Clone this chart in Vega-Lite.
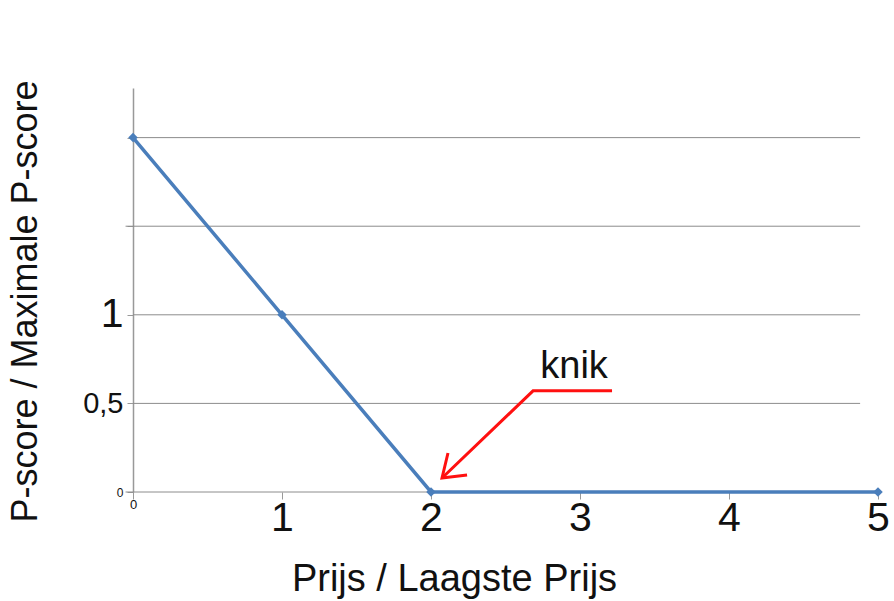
{
  "$schema": "https://vega.github.io/schema/vega-lite/v6.json",
  "width": 745,
  "height": 404,
  "autosize": "none",
  "padding": {"left": 133, "top": 88, "right": 16, "bottom": 109},
  "background": "white",
  "config": {"view": {"stroke": null}, "font": "Liberation Sans"},
  "datasets": {
    "series": [
      {"x": 0, "y": 2},
      {"x": 1, "y": 1},
      {"x": 2, "y": 0},
      {"x": 5, "y": 0}
    ],
    "grid": [
      {"y": 0.5, "x0": 0, "x1": 4.88},
      {"y": 1, "x0": 0, "x1": 4.88},
      {"y": 1.5, "x0": -0.05, "x1": 4.88},
      {"y": 2, "x0": 0, "x1": 4.88}
    ],
    "arrow": [
      {"g": "shaft", "o": 1, "x": 3.215, "y": 0.571},
      {"g": "shaft", "o": 2, "x": 2.685, "y": 0.571},
      {"g": "shaft", "o": 3, "x": 2.074, "y": 0.079},
      {"g": "head", "o": 1, "x": 2.114, "y": 0.22},
      {"g": "head", "o": 2, "x": 2.074, "y": 0.079},
      {"g": "head", "o": 3, "x": 2.242, "y": 0.096}
    ],
    "label": [{"x": 2.96, "y": 0.644, "t": "knik"}]
  },
  "layer": [
    {
      "data": {"name": "grid"},
      "mark": {"type": "rule", "color": "#8c8c8c", "strokeWidth": 1},
      "encoding": {
        "x": {
          "field": "x0", "type": "quantitative",
          "scale": {"domain": [0, 5], "nice": false, "zero": false},
          "axis": {
            "title": "Prijs / Laagste Prijs",
            "titleFontSize": 38, "titleFontWeight": "normal", "titleColor": "#111",
            "titleX": 321, "titleY": 98, "titleAlign": "center", "titleBaseline": "alphabetic",
            "values": [0, 1, 2, 3, 4, 5],
            "format": "d",
            "labelFontSize": {"condition": {"test": "datum.value === 0", "value": 13}, "value": 41},
            "labelColor": "#111",
            "labelPadding": -1,
            "domain": false, "grid": false,
            "ticks": true, "tickSize": 7, "tickColor": "#999",
            "labelFlush": false, "labelOverlap": false
          }
        },
        "x2": {"field": "x1"},
        "y": {
          "field": "y", "type": "quantitative",
          "scale": {"domain": [0, 2.28], "nice": false, "zero": false},
          "axis": {
            "title": "P-score / Maximale P-score",
            "titleFontSize": 36, "titleFontWeight": "normal", "titleColor": "#111",
            "titleX": -97, "titleY": 213, "titleAlign": "center", "titleBaseline": "alphabetic", "titleAngle": -90,
            "values": [0, 0.5, 1, 1.5, 2],
            "labelExpr": "datum.value === 0 ? '0' : datum.value === 0.5 ? '0,5' : datum.value === 1 ? '1' : ''",
            "labelFontSize": {"condition": [{"test": "datum.value === 0", "value": 12}, {"test": "datum.value === 0.5", "value": 29}], "value": 41},
            "labelColor": "#111",
            "labelPadding": 4,
            "grid": false,
            "domain": true, "domainColor": "#999", "domainWidth": 1.5,
            "ticks": true, "tickSize": 6, "tickColor": "#999"
          }
        }
      }
    },
    {
      "data": {"values": [{"y": 0, "x0": -0.05, "x1": 4.88}]},
      "mark": {"type": "rule", "color": "#8c8c8c", "strokeWidth": 1},
      "encoding": {
        "x": {"field": "x0", "type": "quantitative"},
        "x2": {"field": "x1"},
        "y": {"field": "y", "type": "quantitative"}
      }
    },
    {
      "data": {"name": "series"},
      "mark": {"type": "line", "color": "#4a7ebb", "strokeWidth": 3.5,
               "point": {"shape": "diamond", "size": 90, "color": "#4a7ebb", "filled": true}},
      "encoding": {
        "x": {"field": "x", "type": "quantitative"},
        "y": {"field": "y", "type": "quantitative"}
      }
    },
    {
      "data": {"name": "arrow"},
      "mark": {"type": "line", "color": "#ff1010", "strokeWidth": 3, "strokeJoin": "miter"},
      "encoding": {
        "x": {"field": "x", "type": "quantitative"},
        "y": {"field": "y", "type": "quantitative"},
        "detail": {"field": "g"},
        "order": {"field": "o", "type": "quantitative"}
      }
    },
    {
      "data": {"name": "label"},
      "mark": {"type": "text", "fontSize": 38, "color": "#111", "align": "center", "baseline": "alphabetic"},
      "encoding": {
        "x": {"field": "x", "type": "quantitative"},
        "y": {"field": "y", "type": "quantitative"},
        "text": {"field": "t"}
      }
    }
  ]
}
